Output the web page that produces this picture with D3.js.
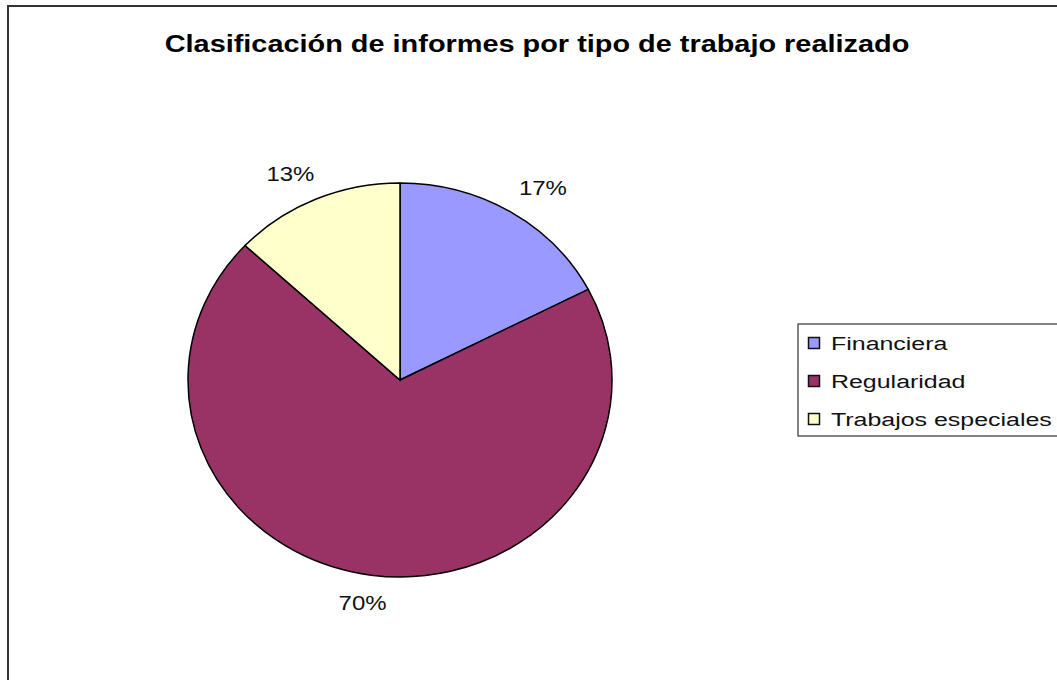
<!DOCTYPE html>
<html>
<head>
<meta charset="UTF-8">
<script src="https://d3js.org/d3.v7.min.js"></script>
<style>
  body { margin: 0; background: #fff; }
  svg { display: block; font-family: Arial, "Liberation Sans", sans-serif; }
</style>
</head>
<body>
<div id="chart"></div>
<script>
// datos del grafico
var titulo = "Clasificación de informes por tipo de trabajo realizado";
var categorias = ["Financiera", "Regularidad", "Trabajos especiales"];
var valores = [4, 16, 3];
var colores = ["#9999FF", "#993366", "#FFFFCC"];

var width = 1057, height = 680;
var svg = d3.select("#chart").append("svg")
    .attr("width", width)
    .attr("height", height);

// el original esta estirado a lo ancho: escalo el texto en x
function estirar(sel, x, y, k) {
    sel.attr("x", 0).attr("y", 0)
        .attr("transform", "translate(" + x + "," + y + ") scale(" + k + ",1)");
}

// marco exterior
svg.append("rect")
    .attr("x", 8).attr("y", 6)
    .attr("width", 1100).attr("height", 700)
    .attr("fill", "none")
    .attr("stroke", "#333")
    .attr("stroke-width", 2);

var t = svg.append("text")
    .attr("text-anchor", "middle")
    .attr("font-size", 24)
    .attr("font-weight", "bold")
    .attr("fill", "#000")
    .text(titulo);
estirar(t, 537, 52, 745 / t.node().getComputedTextLength());

// pastel (un poco achatado como el original)
var cx = 400, cy = 380, r = 212, sy = 197 / 212;
var total = d3.sum(valores);

var pie = d3.pie().sort(null).value(function (d) { return d; });
var arc = d3.arc().innerRadius(0).outerRadius(r);
var arcs = pie(valores);

var g = svg.append("g")
    .attr("transform", "translate(" + cx + "," + cy + ") scale(1," + sy + ")");

g.selectAll("path")
    .data(arcs)
    .enter()
    .append("path")
    .attr("d", arc)
    .attr("fill", function (d, i) { return colores[i]; })
    .attr("stroke", "#000")
    .attr("stroke-width", 1.5)
    .attr("vector-effect", "non-scaling-stroke");

// etiquetas de porcentaje, fuera del pastel
var labelRx = 275, labelRy = 242;
var pct = svg.selectAll("text.pct")
    .data(arcs)
    .enter()
    .append("text")
    .attr("class", "pct")
    .attr("dy", "0.35em")
    .attr("text-anchor", "middle")
    .attr("font-size", 20)
    .attr("fill", "#111")
    .text(function (d) { return Math.round(d.value / total * 100) + "%"; });

var kp = 48 / pct.node().getComputedTextLength();
pct.each(function (d) {
    var a = (d.startAngle + d.endAngle) / 2;
    estirar(d3.select(this), cx + labelRx * Math.sin(a), cy - labelRy * Math.cos(a) * sy, kp);
});

// leyenda
var leg = svg.append("g").attr("transform", "translate(798,324)");
leg.append("rect")
    .attr("x", 0).attr("y", 0)
    .attr("width", 300).attr("height", 112)
    .attr("fill", "#fff")
    .attr("stroke", "#333")
    .attr("stroke-width", 1.2);

var item = leg.selectAll("g.item")
    .data(categorias)
    .enter()
    .append("g")
    .attr("class", "item")
    .attr("transform", function (d, i) { return "translate(0," + (26 + i * 38) + ")"; });

item.append("rect")
    .attr("x", 10.5).attr("y", -12.5)
    .attr("width", 11).attr("height", 11)
    .attr("fill", function (d, i) { return colores[i]; })
    .attr("stroke", "#111")
    .attr("stroke-width", 1.5);

var lt = item.append("text")
    .attr("font-size", 19)
    .attr("fill", "#111")
    .text(function (d) { return d; });

var kl = 221 / lt.nodes()[2].getComputedTextLength();
estirar(lt, 33, 0, kl);
</script>
</body>
</html>
